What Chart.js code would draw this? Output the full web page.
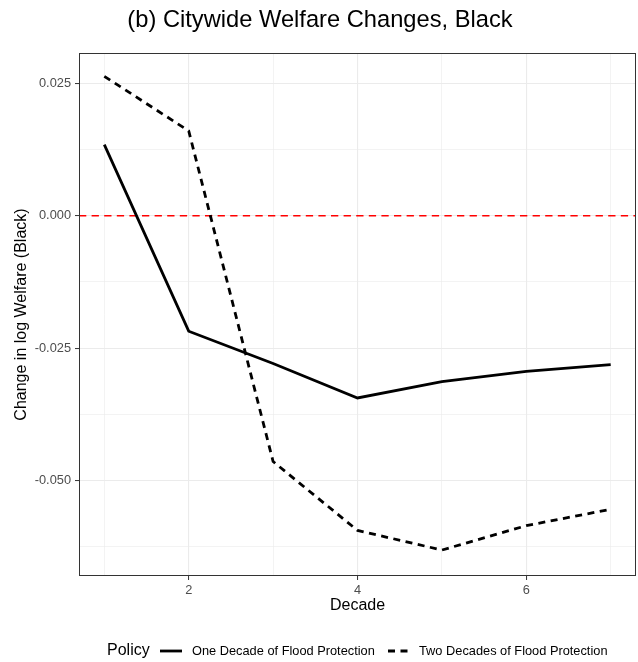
<!DOCTYPE html>
<html>
<head>
<meta charset="utf-8">
<title>Citywide Welfare Changes, Black</title>
<script src="https://cdn.jsdelivr.net/npm/chart.js@4/dist/chart.umd.min.js"></script>
<style>
  html, body { margin: 0; padding: 0; background: #ffffff; }
  #wrap { width: 638px; height: 662px; }
</style>
</head>
<body>
<div id="wrap"><canvas id="chart" width="638" height="662"></canvas></div>
<script>
// Decades after the policy starts
const decades = [1, 2, 3, 4, 5, 6, 7];
// Change in log welfare for Black households under each policy
const oneDecade  = [0.0134, -0.0218, -0.0279, -0.0344, -0.0313, -0.0294, -0.0281];
const twoDecades = [0.0263,  0.0160, -0.0464, -0.0594, -0.0631, -0.0585, -0.0554];
// Reference line at no change
const zeroLevel = 0;

const seriesNames = ['One Decade of Flood Protection', 'Two Decades of Flood Protection'];
const legendTitle = 'Policy';
const chartTitle = '(b) Citywide Welfare Changes, Black';
const xTitle = 'Decade';
const yTitle = 'Change in log Welfare (Black)';

// Axis breaks: labelled majors and unlabelled minors in between
const xMajor = [2, 4, 6];
const xMinor = [1, 3, 5, 7];
const yMajor = [-0.05, -0.025, 0, 0.025];
const yMinor = [-0.0625, -0.0375, -0.0125, 0.0125];

const X_MIN = 0.7, X_MAX = 7.3;
const Y_MIN = -0.0680, Y_MAX = 0.0307;

const FONT = '"Liberation Sans", Arial, Helvetica, sans-serif';
const GRID = '#EBEBEB';
const INK = '#333333';

const isIn = (arr, v) => arr.some(a => Math.abs(a - v) < 1e-9);

const toXY = (xs, ys) => xs.map((x, i) => ({ x: x, y: ys[i] }));

// Title, panel frame and legend drawn on top of Chart.js output
const decorations = {
  id: 'decorations',
  afterDatasetsDraw(chart) {
    const { ctx, chartArea: a } = chart;
    ctx.save();
    ctx.strokeStyle = INK;
    ctx.lineWidth = 1;
    ctx.strokeRect(a.left + 0.5, a.top + 0.5, a.right - a.left - 1, a.bottom - a.top - 1);
    ctx.restore();
  },
  afterDraw(chart) {
    const { ctx } = chart;
    ctx.save();
    // Title
    ctx.fillStyle = '#000000';
    ctx.font = '23.7px ' + FONT;
    ctx.textAlign = 'center';
    ctx.textBaseline = 'alphabetic';
    ctx.fillText(chartTitle, 320, 27);

    // Legend row
    const ly = 651;
    ctx.textAlign = 'left';
    ctx.textBaseline = 'middle';
    ctx.font = '16px ' + FONT;
    ctx.fillText(legendTitle, 107, ly);

    const keys = [
      { ds: chart.data.datasets[0], x0: 160, x1: 182, tx: 192 },
      { ds: chart.data.datasets[1], x0: 388, x1: 408, tx: 419 }
    ];
    keys.forEach(k => {
      ctx.beginPath();
      ctx.strokeStyle = k.ds.borderColor;
      ctx.lineWidth = k.ds.borderWidth;
      ctx.setLineDash(k.ds.borderDash || []);
      ctx.moveTo(k.x0, ly);
      ctx.lineTo(k.x1, ly);
      ctx.stroke();
      ctx.setLineDash([]);
      ctx.fillStyle = '#000000';
      ctx.font = '12.8px ' + FONT;
      ctx.fillText(k.ds.label, k.tx, ly);
    });
    ctx.restore();
  }
};

new Chart(document.getElementById('chart'), {
  type: 'line',
  data: {
    datasets: [
      {
        label: seriesNames[0],
        data: toXY(decades, oneDecade),
        borderColor: '#000000',
        borderWidth: 2.8,
        pointRadius: 0,
        tension: 0,
        fill: false
      },
      {
        label: seriesNames[1],
        data: toXY(decades, twoDecades),
        borderColor: '#000000',
        borderWidth: 2.8,
        borderDash: [7, 5.5],
        pointRadius: 0,
        tension: 0,
        fill: false
      },
      {
        label: 'zero',
        data: [{ x: X_MIN, y: zeroLevel }, { x: X_MAX, y: zeroLevel }],
        borderColor: '#FF0000',
        borderWidth: 1.5,
        borderDash: [7.3, 5.3],
        pointRadius: 0,
        tension: 0,
        fill: false
      }
    ]
  },
  options: {
    responsive: false,
    animation: false,
    devicePixelRatio: 1,
    layout: { padding: { top: 53, right: 2, bottom: 45, left: 0 } },
    plugins: {
      legend: { display: false },
      tooltip: { enabled: false },
      title: { display: false }
    },
    scales: {
      x: {
        type: 'linear',
        min: X_MIN,
        max: X_MAX,
        afterBuildTicks(scale) {
          scale.ticks = [...xMinor, ...xMajor].sort((a, b) => a - b).map(v => ({ value: v }));
        },
        afterFit(scale) { scale.height = 41; },
        ticks: {
          autoSkip: false,
          maxRotation: 0,
          padding: 3,
          color: '#4D4D4D',
          font: { family: FONT, size: 12.8 },
          callback: v => isIn(xMajor, v) ? String(v) : ''
        },
        grid: {
          color: c => GRID,
          lineWidth: c => isIn(xMajor, c.tick.value) ? 1.1 : 0.6,
          tickColor: c => isIn(xMajor, c.tick.value) ? INK : 'rgba(0,0,0,0)',
          tickLength: 4,
          tickWidth: 1
        },
        border: { display: false },
        title: {
          display: true,
          text: xTitle,
          color: '#000000',
          font: { family: FONT, size: 16 },
          padding: { top: 0, bottom: 2 }
        }
      },
      y: {
        type: 'linear',
        min: Y_MIN,
        max: Y_MAX,
        afterBuildTicks(scale) {
          scale.ticks = [...yMinor, ...yMajor].sort((a, b) => a - b).map(v => ({ value: v }));
        },
        afterFit(scale) { scale.width = 79; },
        ticks: {
          autoSkip: false,
          padding: 4,
          color: '#4D4D4D',
          font: { family: FONT, size: 12.8 },
          callback: v => isIn(yMajor, v) ? v.toFixed(3) : ''
        },
        grid: {
          color: c => GRID,
          lineWidth: c => isIn(yMajor, c.tick.value) ? 1.1 : 0.6,
          tickColor: c => isIn(yMajor, c.tick.value) ? INK : 'rgba(0,0,0,0)',
          tickLength: 4,
          tickWidth: 1
        },
        border: { display: false },
        title: {
          display: true,
          text: yTitle,
          color: '#000000',
          font: { family: FONT, size: 16 },
          padding: { top: 12, bottom: 0 }
        }
      }
    }
  },
  plugins: [decorations]
});
</script>
</body>
</html>
